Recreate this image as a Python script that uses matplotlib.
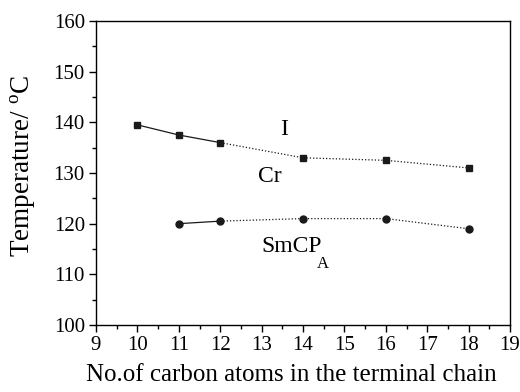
import matplotlib
matplotlib.use("Agg")
import matplotlib.pyplot as plt
from matplotlib.ticker import MultipleLocator

plt.rcParams["font.family"] = ["Liberation Serif", "DejaVu Serif"]
plt.rcParams["mathtext.fontset"] = "custom"
plt.rcParams["mathtext.rm"] = "Liberation Serif"

# ---------------- data ----------------
n_iso = [10, 11, 12, 14, 16, 18]
t_iso = [139.5, 137.5, 136.0, 133.0, 132.5, 131.0]
n_smc = [11, 12, 14, 16, 18]
t_smc = [120.0, 120.5, 121.0, 121.0, 119.0]
n_solid_end = 12   # solid line up to n=12, dotted afterwards

fig = plt.figure(figsize=(5.2, 3.92), dpi=100)
ax = fig.add_axes([96/520, 1 - 325/392, (510-96)/520, (325-21)/392])

def draw(ns, ts, marker, ms):
    i = ns.index(n_solid_end)
    ax.plot(ns[:i+1], ts[:i+1], "-", color="#1a1a1a", lw=0.9)
    ax.plot(ns[i:], ts[i:], color="#1a1a1a", lw=0.9, dashes=(1.0, 1.6))
    ax.plot(ns, ts, marker, color="#1a1a1a", ms=ms, ls="none")

draw(n_iso, t_iso, "s", 4.3)
draw(n_smc, t_smc, "o", 5.0)

ax.text(13.55, 138.6, "I", fontsize=17, ha="center", va="center")
ax.text(13.2, 129.4, "Cr", fontsize=17, ha="center", va="center")
ax.text(13.0, 115.4, "SmCP", fontsize=17, ha="left", va="center")
ax.text(14.33, 112.0, "A", fontsize=12, ha="left", va="center")

ax.set_xlim(9, 19)
ax.set_ylim(100, 160)
ax.xaxis.set_major_locator(MultipleLocator(1))
ax.xaxis.set_minor_locator(MultipleLocator(0.5))
ax.yaxis.set_major_locator(MultipleLocator(10))
ax.yaxis.set_minor_locator(MultipleLocator(5))
ax.tick_params(which="both", direction="out", labelsize=15, top=False, right=False)
ax.tick_params(which="major", length=5, width=1, pad=3)
ax.tick_params(which="minor", length=3, width=1)
for s in ax.spines.values():
    s.set_linewidth(1.0)

ax.set_xlabel("No.of carbon atoms in the terminal chain", fontsize=18)
ax.set_ylabel(r"Temperature/ $^{\mathrm{o}}$C", fontsize=19.5)
ax.xaxis.set_label_coords(0.472, -0.128)
ax.yaxis.set_label_coords(-0.14, 0.523)

fig.savefig("out.png", dpi=100)
